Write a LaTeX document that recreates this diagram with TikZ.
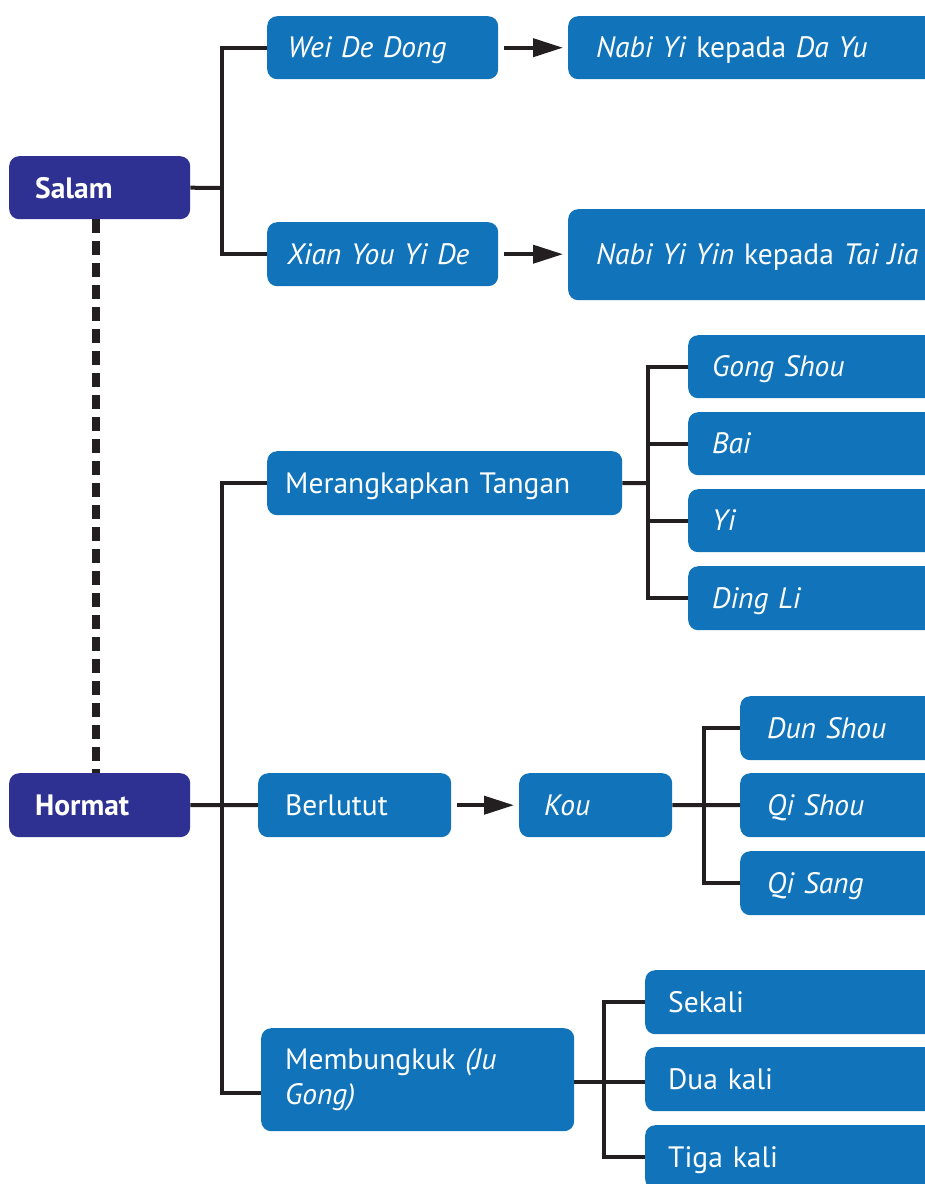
\documentclass[tikz,border=0pt]{standalone}
\usepackage{fontspec}
\setmainfont{PT Sans}
\usetikzlibrary{arrows.meta}
\definecolor{navy}{HTML}{2E3192}
\definecolor{bblue}{HTML}{1174BB}
\definecolor{ink}{HTML}{231F20}
\tikzset{
  bxbase/.style={rectangle, rounded corners=10pt, fill=bblue, text=white, anchor=north west,
    inner ysep=0pt, align=left, font=\fontsize{29.5}{35}\selectfont},
  bx/.style={bxbase, text height=22pt, text depth=2pt},
  nv/.style={bx, fill=navy, font=\fontsize{29.5}{35}\selectfont\bfseries, text depth=1pt},
  conn/.style={draw=ink, line width=4pt},
  arr/.style={conn, -{Triangle[length=30pt,width=18pt]}, shorten <=6pt, shorten >=5pt},
  dots/.style={draw=ink, line width=8pt, dash pattern=on 14pt off 8pt}
}
\begin{document}
\begin{tikzpicture}[x=1pt,y=-1pt]
\useasboundingbox (0,0) rectangle (925,1184);
% left roots
\node[nv, text width=129pt, inner xsep=26pt, minimum height=63pt] (salam) at (9,156) {Salam};
\node[nv, text width=129pt, inner xsep=26pt, minimum height=64pt] (hormat) at (9,773) {Hormat};
% Salam branch
\node[bx, text width=190pt, inner xsep=20.5pt, minimum height=63pt] (wei) at (267,16) {\itshape Wei De Dong};
\node[bx, text width=191pt, inner xsep=20pt, minimum height=64pt] (xian) at (267,222) {\itshape Xian You Yi De};
\node[bx, text width=324pt, inner xsep=28pt, minimum height=63pt] (nabi1) at (568,16) {\textit{Nabi Yi} kepada \textit{Da Yu}};
\node[bx, text width=324pt, inner xsep=28pt, minimum height=91pt] (nabi2) at (568,209) {\textit{Nabi Yi Yin} kepada \textit{Tai Jia}};
% Hormat branch
\node[bx, text width=319pt, inner xsep=18pt, minimum height=64pt] (merang) at (267,451) {Merangkapkan Tangan};
\node[bx, text width=212pt, inner xsep=24pt, minimum height=63pt] (gong) at (688,335) {\itshape Gong Shou};
\node[bx, text width=212pt, inner xsep=24pt, minimum height=63pt] (bai) at (688,412) {\itshape Bai};
\node[bx, text width=212pt, inner xsep=24pt, minimum height=63pt] (yi) at (688,489) {\itshape Yi};
\node[bx, text width=212pt, inner xsep=24pt, minimum height=64pt] (ding) at (688,566) {\itshape Ding Li};
\node[bx, text width=139pt, inner xsep=27pt, minimum height=64pt] (berlutut) at (258,773) {Berlutut};
\node[bx, text width=103pt, inner xsep=25pt, minimum height=64pt] (kou) at (519,773) {\itshape Kou};
\node[bx, text width=156pt, inner xsep=27pt, minimum height=64pt] (dun) at (740,696) {\itshape Dun Shou};
\node[bx, text width=156pt, inner xsep=27pt, minimum height=64pt] (qishou) at (740,773) {\itshape Qi Shou};
\node[bx, text width=156pt, inner xsep=27pt, minimum height=64pt] (qisang) at (740,851) {\itshape Qi Sang};
\node[bxbase, text width=265pt, inner xsep=24pt, minimum height=103pt] (mem) at (261,1028) {Membungkuk \textit{(Ju}\\\textit{Gong)}};
\node[bx, text width=254pt, inner xsep=23pt, minimum height=64pt] (sekali) at (645,970) {Sekali};
\node[bx, text width=254pt, inner xsep=23pt, minimum height=64pt] (dua) at (645,1047) {Dua kali};
\node[bx, text width=254pt, inner xsep=23pt, minimum height=64pt] (tiga) at (645,1125) {Tiga kali};
% junction coordinates
\coordinate (js) at (222,188);
\coordinate (jh) at (222,805);
\coordinate (jm) at (648,483);
\coordinate (jk) at (704,805);
\coordinate (jb) at (604,1082);
% dashed link
\draw[dots] ([xshift=-3.5pt]salam.south) -- ([xshift=-3.5pt]hormat.north);
% Salam connectors
\draw[conn] (salam.east) -- (js);
\draw[conn] (js) |- (wei.west);
\draw[conn] (js) |- (xian.west);
\draw[arr] (wei.east) -- (nabi1.west);
\draw[arr] (xian.east) -- (xian.east -| nabi2.west);
% Hormat connectors
\draw[conn] (hormat.east) -- (jh);
\draw[conn] (jh) -- (berlutut.west);
\draw[conn] (jh) |- (merang.west);
\draw[conn] (jh) |- ([yshift=-13.5pt]mem.west);
% Merangkapkan
\draw[conn] (merang.east) -- (jm);
\draw[conn] (jm) |- (gong.west);
\draw[conn] (jm) |- (bai.west);
\draw[conn] (jm) |- (yi.west);
\draw[conn] (jm) |- (ding.west);
% Berlutut / Kou
\draw[arr] (berlutut.east) -- (kou.west);
\draw[conn] (kou.east) -- (jk);
\draw[conn] (jk) |- (dun.west);
\draw[conn] (jk) -- (qishou.west);
\draw[conn] (jk) |- (qisang.west);
% Membungkuk
\draw[conn] (mem.east |- jb) -- (jb);
\draw[conn] (jb) |- (sekali.west);
\draw[conn] (jb) -- (jb -| dua.west);
\draw[conn] (jb) |- (tiga.west);
\end{tikzpicture}
\end{document}
